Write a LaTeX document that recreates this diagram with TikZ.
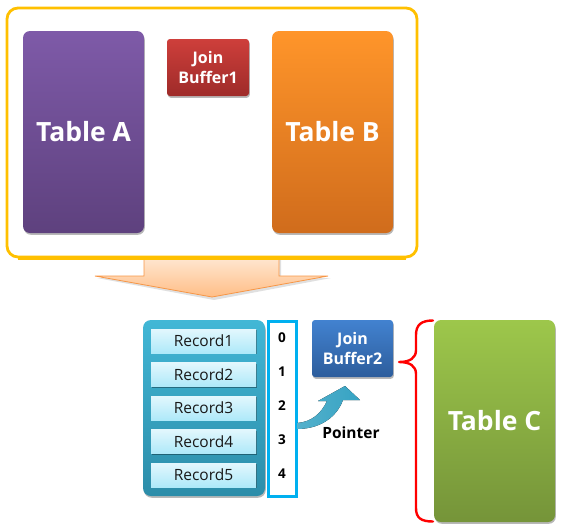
\documentclass[tikz,border=0pt]{standalone}
\usepackage{fontspec}
\setmainfont{Open Sans}
\usetikzlibrary{shadows}
\definecolor{frameY}{HTML}{FFC000}
\definecolor{purT}{HTML}{7E5AA8}
\definecolor{purB}{HTML}{5E417E}
\definecolor{redT}{HTML}{CE3F3B}
\definecolor{redB}{HTML}{9E2B29}
\definecolor{orgT}{HTML}{FF952A}
\definecolor{orgB}{HTML}{D06C1C}
\definecolor{arrT}{HTML}{FFE6D0}
\definecolor{arrB}{HTML}{FFBE86}
\definecolor{arrD}{HTML}{F79646}
\definecolor{conT}{HTML}{42B7D6}
\definecolor{conB}{HTML}{2C8DA9}
\definecolor{recT}{HTML}{E2F7FD}
\definecolor{recB}{HTML}{AEE9F9}
\definecolor{idxC}{HTML}{00B0F0}
\definecolor{bluT}{HTML}{4282D0}
\definecolor{bluB}{HTML}{2D5D9C}
\definecolor{grnT}{HTML}{9DC74B}
\definecolor{grnB}{HTML}{759439}
\definecolor{ptrC}{HTML}{36A3C3}
\begin{document}
\begin{tikzpicture}[x=1pt,y=-1pt,
  shad/.style={drop shadow={shadow xshift=0.8pt,shadow yshift=-1.8pt,opacity=0.28,fill=black}},
  tablebox/.style={shad,rounded corners=7pt,minimum width=121pt,minimum height=202pt,inner sep=0pt,
     text=white,font=\bfseries\fontsize{26.5}{30}\selectfont},
  bufbox/.style={shad,rounded corners=3pt,minimum width=82pt,minimum height=57pt,inner sep=0pt,
     text=white,align=center,font=\bfseries\fontsize{16}{20}\selectfont},
  recbox/.style={drop shadow={shadow xshift=0.6pt,shadow yshift=-1.4pt,opacity=0.35,fill=black},
     top color=recT,bottom color=recB,minimum width=105pt,minimum height=24pt,inner sep=0pt,
     text=black!90,font=\fontsize{15.5}{18}\selectfont},
  idxnum/.style={font=\bfseries\fontsize{13.5}{16}\selectfont,inner sep=0pt}]
\useasboundingbox (0,0) rectangle (561,530);

% upper frame
\node[draw=frameY,line width=2.8pt,fill=white,rounded corners=11pt,
      minimum width=410pt,minimum height=249pt,inner sep=0pt] (frame) at (212,132.5) {};
\node[tablebox,top color=purT,bottom color=purB] (ta) at (83.5,132) {Table A};
\node[bufbox,top color=redT,bottom color=redB] (jb1) at (208,67.5) {Join\\Buffer1};
\node[tablebox,top color=orgT,bottom color=orgB] (tb) at (332.5,132) {Table B};

% big down arrow
\fill[black,opacity=0.12] (146,259) -- (281,259) -- (281,278) -- (331,278) -- (214,300) -- (97,278) -- (146,278) -- cycle;
\path[draw=arrD,line width=0.8pt,top color=arrT,bottom color=arrB]
  (144,258) -- (279,258) -- (279,276) -- (328,276) -- (212,297) -- (95,276) -- (144,276) -- cycle;
\draw[frameY,line width=2.8pt] (frame.south west) ++(12,0) -- ([xshift=-12pt]frame.south east);

% records container
\node[shad,rounded corners=8pt,top color=conT,bottom color=conB,minimum width=122pt,
      minimum height=176pt,inner sep=0pt] (cont) at (204,408) {};
\node[recbox] (r1) at (203.5,341) {Record1};
\node[recbox] (r2) at (203.5,374.5) {Record2};
\node[recbox] (r3) at (203.5,408) {Record3};
\node[recbox] (r4) at (203.5,441.5) {Record4};
\node[recbox] (r5) at (203.5,475) {Record5};

% index column
\node[draw=idxC,line width=3pt,fill=white,minimum width=28pt,minimum height=175pt,inner sep=0pt] (idx) at (282,408.5) {};
\node[idxnum] (n0) at (282,338) {0};
\node[idxnum] (n1) at (282,372) {1};
\node[idxnum] (n2) at (282,406) {2};
\node[idxnum] (n3) at (282,440) {3};
\node[idxnum] (n4) at (282,474) {4};

% join buffer 2 and table C
\node[bufbox,minimum width=81pt,top color=bluT,bottom color=bluB] (jb2) at (352.5,348.5) {Join\\Buffer2};
\node[tablebox,top color=grnT,bottom color=grnB] (tc) at (494.5,421) {Table C};

% pointer arrow
\fill[left color=ptrC!85!white,right color=ptrC]
  (297,423) .. controls (311,422) and (321,414) .. (327,401) -- (318,401) -- (345,386)
  -- (360,400) -- (343,400) .. controls (336,419) and (318,429) .. (297,429) -- cycle;
\node[font=\bfseries\fontsize{15.5}{18}\selectfont,inner sep=0pt] (ptr) at (351,433) {Pointer};

% brace
\coordinate (btop) at (433,320.5);
\coordinate (btip) at (399,362);
\coordinate (bbot) at (433,521.5);
\draw[red,line width=2.4pt,line cap=round,line join=round]
  (btop) .. controls (421,320.5) and (416,325) .. (416,335) -- (416,350)
  .. controls (416,358) and (410,362) .. (btip)
  .. controls (410,362) and (416,366) .. (416,374) -- (416,508)
  .. controls (416,518) and (421,521.5) .. (bbot);
\end{tikzpicture}
\end{document}
